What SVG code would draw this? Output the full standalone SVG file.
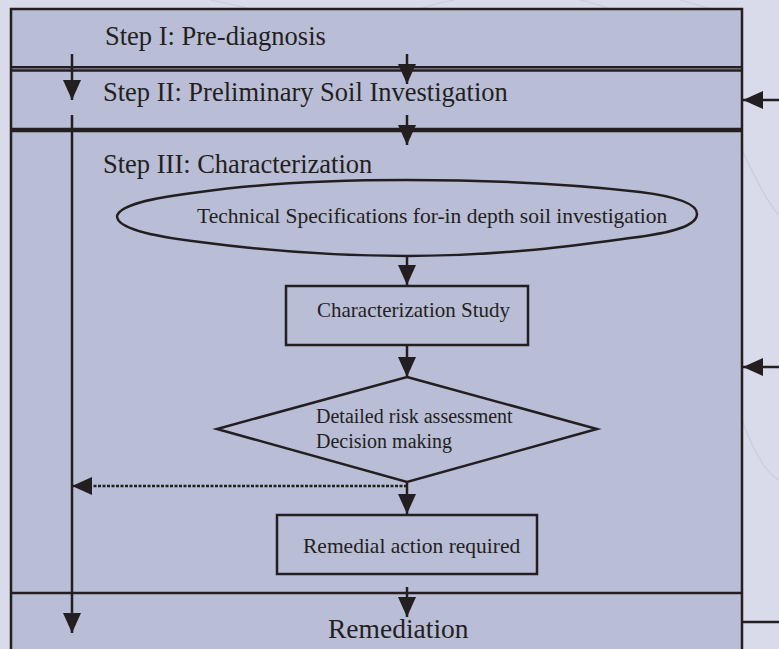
<svg xmlns="http://www.w3.org/2000/svg" width="779" height="649" viewBox="0 0 779 649">
<style>
.t{font-family:"Liberation Serif","Times New Roman",serif;fill:#231f20}
.ln{stroke:#231f20;fill:none}
.c{stroke:#231f20;stroke-width:2.5;fill:none;marker-end:url(#ah)}
.deco{stroke:#c9cce0;stroke-width:1.2;fill:none}
</style>
<defs>
<marker id="ah" viewBox="0 0 20 18" markerWidth="20" markerHeight="18" refX="20" refY="9" orient="auto" markerUnits="userSpaceOnUse">
<path d="M0,0 L20,9 L0,18 Z" fill="#231f20"/>
</marker>
</defs>
<rect x="0" y="0" width="779" height="649" fill="#d9dbea"/>
<g id="background-deco">
<path class="deco" d="M210,0 Q240,6 250,9"/>
<path class="deco" d="M420,9 Q440,2 455,0"/>
<path class="deco" d="M580,0 Q600,5 610,9"/>
<path class="deco" d="M680,0 Q700,6 712,9"/>
<path class="deco" d="M742,150 Q765,200 779,215"/>
<path class="deco" d="M742,420 Q760,470 779,480"/>
</g>
<g id="frame">
<rect x="11" y="9" width="731" height="660" fill="#b9bdd6" stroke="#231f20" stroke-width="2.5"/>
<line class="ln" x1="11" y1="67.2" x2="742" y2="67.2" stroke-width="2.5"/>
<line class="ln" x1="11" y1="70.4" x2="742" y2="70.4" stroke-width="2.5"/>
<line class="ln" x1="11" y1="130" x2="742" y2="130" stroke-width="4.5"/>
<line class="ln" x1="11" y1="593" x2="742" y2="593" stroke-width="2.5"/>
</g>
<g id="step1"><text class="t" x="105" y="45" font-size="26.5">Step I: Pre-diagnosis</text></g>
<g id="step2"><text class="t" x="103" y="101" font-size="26.5">Step II: Preliminary Soil Investigation</text></g>
<g id="step3"><text class="t" x="103" y="173" font-size="26.5">Step III: Characterization</text></g>
<g id="tech-spec">
<path class="ln" stroke-width="2.5" fill="#b9bdd6" d="M117,216 C120,205 150,198 200,192 C250,185 320,180 407,180 C490,180 570,184 640,192 C680,197 697,205 697,214 C697,224 680,232 630,238 C570,246 500,256 407,256 C330,256 260,250 200,242 C150,236 117,228 117,216 Z"/>
<text class="t" x="197" y="223" font-size="21.5">Technical Specifications for-in depth soil investigation</text>
</g>
<g id="char-study">
<rect x="286" y="286" width="242" height="59" fill="none" stroke="#231f20" stroke-width="2.5"/>
<text class="t" x="317" y="317" font-size="21">Characterization Study</text>
</g>
<g id="decision">
<polygon points="407,377 597,429 407,482 217,429" fill="none" stroke="#231f20" stroke-width="2.5"/>
<text class="t" x="316" y="423" font-size="20">Detailed risk assessment</text>
<text class="t" x="316" y="448" font-size="20">Decision making</text>
</g>
<g id="remedial-action">
<rect x="277" y="515" width="260" height="59" fill="none" stroke="#231f20" stroke-width="2.5"/>
<text class="t" x="303" y="553" font-size="21.5">Remedial action required</text>
</g>
<g id="remediation"><text class="t" x="328" y="638" font-size="27.5">Remediation</text></g>
<g id="connectors">
<line class="c" x1="72" y1="54" x2="72" y2="100"/>
<line class="c" x1="72" y1="115" x2="72" y2="633"/>
<line class="c" x1="407" y1="54" x2="407" y2="84"/>
<line class="c" x1="407" y1="115" x2="407" y2="145"/>
<line class="c" x1="407" y1="256" x2="407" y2="285"/>
<line class="c" x1="407" y1="345" x2="407" y2="377"/>
<line class="c" x1="407" y1="482" x2="407" y2="514"/>
<line class="c" x1="407" y1="486" x2="72" y2="486" stroke-dasharray="3 1.5"/>
<line class="c" x1="407" y1="587" x2="407" y2="617"/>
<line class="c" x1="779" y1="100" x2="743" y2="100"/>
<line class="c" x1="779" y1="367" x2="743" y2="367"/>
<line class="ln" x1="743" y1="622" x2="779" y2="622" stroke-width="2.5"/>
</g>
</svg>
